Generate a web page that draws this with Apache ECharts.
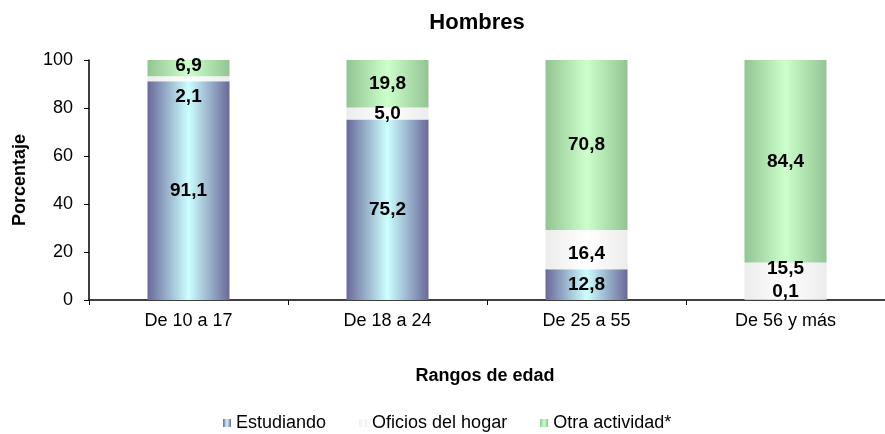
<!DOCTYPE html>
<html>
<head>
<meta charset="utf-8">
<script src="https://cdn.jsdelivr.net/npm/echarts@6/dist/echarts.min.js"></script>
<style>
  html, body { margin: 0; padding: 0; background: #fff; }
  #chart { width: 885px; height: 434px; }
</style>
</head>
<body>
<div id="chart"></div>
<script>
// rangos de edad
var categorias = ['De 10 a 17', 'De 18 a 24', 'De 25 a 55', 'De 56 y más']
var estudiando = [91.1, 75.2, 12.8, 0.1]
var oficios = [2.1, 5.0, 16.4, 15.5]
var otra = [6.9, 19.8, 70.8, 84.4]
var ticksY = [0, 20, 40, 60, 80, 100]

var fuente = 'Liberation Sans'

function degradado (borde, centro) {
  return new echarts.graphic.LinearGradient(0, 0, 1, 0, [
    {offset: 0, color: borde},
    {offset: 0.5, color: centro},
    {offset: 1, color: borde}
  ])
}

function coma (p) {
  return p.value.toFixed(1).replace('.', ',')
}

// desplazamiento de etiquetas en segmentos pequeños (como en el original)
function conEtiquetas (valores, desplaz) {
  return valores.map(function (v, i) {
    var d = {value: v}
    if (desplaz[i]) d.label = {offset: [0, desplaz[i]]}
    return d
  })
}

var etiqueta = {
  show: true,
  position: 'inside',
  formatter: coma,
  color: '#000',
  fontFamily: fuente,
  fontWeight: 'bold',
  fontSize: 19
}

var chart = echarts.init(document.getElementById('chart'))
chart.setOption({
  animation: false,
  textStyle: {fontFamily: fuente},
  title: {
    text: 'Hombres',
    left: 472,
    top: 7,
    textAlign: 'center',
    textStyle: {fontFamily: fuente, fontWeight: 'bold', fontSize: 22, color: '#000'}
  },
  legend: {
    bottom: -3,
    left: 218,
    icon: 'rect',
    itemWidth: 8,
    itemHeight: 8,
    itemGap: 33,
    textStyle: {fontFamily: fuente, fontSize: 18, color: '#000'},
    data: ['Estudiando', 'Oficios del hogar', 'Otra actividad*']
  },
  grid: {left: 89, top: 60, width: 804, height: 240},
  xAxis: {
    type: 'category',
    data: categorias,
    name: 'Rangos de edad',
    nameLocation: 'middle',
    nameGap: 67,
    nameTextStyle: {fontFamily: fuente, fontWeight: 'bold', fontSize: 18, color: '#000', padding: [0, 0, 0, -4]},
    axisLine: {lineStyle: {color: '#000', width: 1.5}},
    axisTick: {show: true, length: 5, lineStyle: {color: '#000'}},
    axisLabel: {color: '#000', fontSize: 18, margin: 12, fontFamily: fuente}
  },
  yAxis: {
    type: 'value',
    min: 0,
    max: 100,
    interval: 20,
    name: 'Porcentaje',
    nameLocation: 'middle',
    nameGap: 60,
    nameTextStyle: {fontFamily: fuente, fontWeight: 'bold', fontSize: 18, color: '#000'},
    axisLine: {show: true, lineStyle: {color: '#000', width: 1.5}},
    axisTick: {show: true, length: 5, lineStyle: {color: '#000'}},
    axisLabel: {
      color: '#000',
      fontSize: 18,
      margin: 16,
      fontFamily: fuente,
      formatter: function (v) { return ticksY.indexOf(v) >= 0 ? v : '' }
    },
    splitLine: {show: false}
  },
  series: [
    {
      name: 'Estudiando',
      type: 'bar',
      stack: 'total',
      barWidth: 82,
      itemStyle: {color: degradado('#69699a', '#ccffff')},
      label: etiqueta,
      data: conEtiquetas(estudiando, [0, 0, 0, -8])
    },
    {
      name: 'Oficios del hogar',
      type: 'bar',
      stack: 'total',
      itemStyle: {color: degradado('#ececec', '#ffffff')},
      label: etiqueta,
      data: conEtiquetas(oficios, [18, 0, 4, -12])
    },
    {
      name: 'Otra actividad*',
      type: 'bar',
      stack: 'total',
      itemStyle: {color: degradado('#93c493', '#ccffcc')},
      label: etiqueta,
      data: conEtiquetas(otra, [-2, 0, 0, 0])
    }
  ]
})
</script>
</body>
</html>
